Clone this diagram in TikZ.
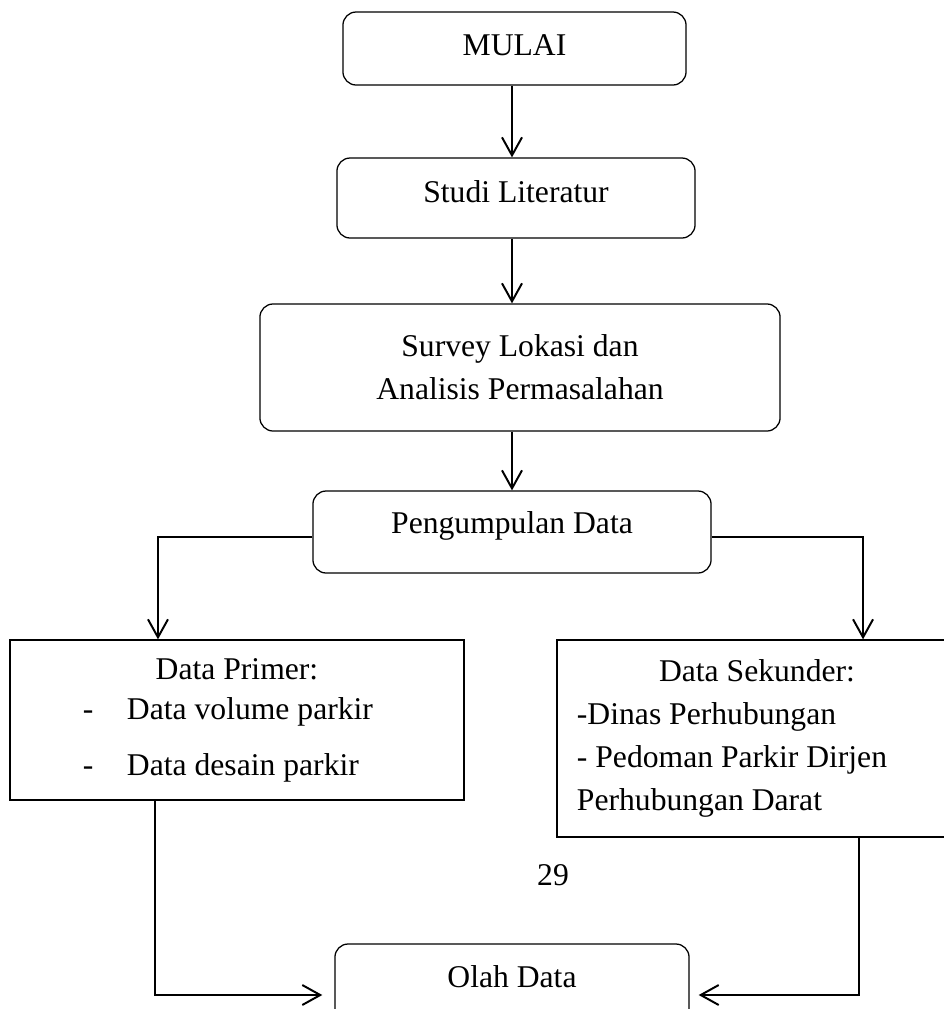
\documentclass[tikz,border=0pt]{standalone}
\usepackage{fontspec}
\setmainfont{Liberation Serif}
\usetikzlibrary{arrows.meta}

\tikzset{kotak/.style = {draw, rounded corners=0.33cm, line width=0.9pt,
                         inner sep=0pt, align=center},
         kotakdata/.style = {draw, rectangle, line width=0.9pt,
                             inner ysep=0pt, align=flush left},
         panah/.style = {line width=1.4pt,
                         -{Straight Barb[length=0.45cm,width=0.5cm]}},
         every node/.style = {font=\fontsize{22.5pt}{30.6pt}\selectfont}
        }

\begin{document}
\begin{tikzpicture}[x=0.025cm, y=-0.025cm]
  \clip (0,0) rectangle (944,1009);
  \node[kotak, minimum width=8.575cm, minimum height=1.825cm,
        text height=0.55cm, text depth=0.225cm] (mulai) at (514.5,48.5) {MULAI};
  \node[kotak, minimum width=8.95cm, minimum height=2cm,
        text height=0.55cm, text depth=0.35cm] (studi) at (516,198) {Studi Literatur};
  \node[kotak, minimum width=13cm, minimum height=3.175cm] (survey) at (520,367.5)
        {Survey Lokasi dan\\Analisis Permasalahan};
  \node[kotak, minimum width=9.95cm, minimum height=2.05cm,
        text height=0.55cm, text depth=0.5cm] (pengumpulan) at (512,532) {Pengumpulan Data};
  \node[kotakdata, text width=11.35cm, inner xsep=0pt, minimum height=4cm] (primer) at (237,720)
        {\makebox[11.35cm]{Data Primer:}\\[-0.075cm]
         \makebox[2.925cm][l]{\hspace*{1.825cm}-}Data volume parkir\\[0.325cm]
         \makebox[2.925cm][l]{\hspace*{1.825cm}-}Data desain parkir};
  \node[kotakdata, text width=9cm, inner xsep=0.5cm, minimum height=4.925cm] (sekunder) at (757,738.5)
        {\makebox[9cm]{Data Sekunder:}\\
         -Dinas Perhubungan\\
         - Pedoman Parkir Dirjen\\
         Perhubungan Darat};
  \node[anchor=base] (halaman) at (553,885) {29};
  \node[kotak, minimum width=8.85cm, minimum height=2.55cm,
        text height=0.55cm, text depth=0.95cm] (olah) at (512,995) {Olah Data};

  \draw[panah] (mulai.south -| pengumpulan) -- (studi.north -| pengumpulan);
  \draw[panah] (studi.south -| pengumpulan) -- (survey.north -| pengumpulan);
  \draw[panah] (survey.south -| pengumpulan) -- (pengumpulan.north);
  \draw[panah] ([yshift=-0.125cm]pengumpulan.west) -| ([xshift=-1.975cm]primer.north);
  \draw[panah] ([yshift=-0.125cm]pengumpulan.east) -| ([xshift=2.65cm]sekunder.north);
  \draw[panah] ([xshift=-2.05cm]primer.south) |- ([xshift=-0.3cm]olah.west);
  \draw[panah] ([xshift=2.55cm]sekunder.south) |- ([xshift=0.225cm]olah.east);
\end{tikzpicture}
\end{document}
